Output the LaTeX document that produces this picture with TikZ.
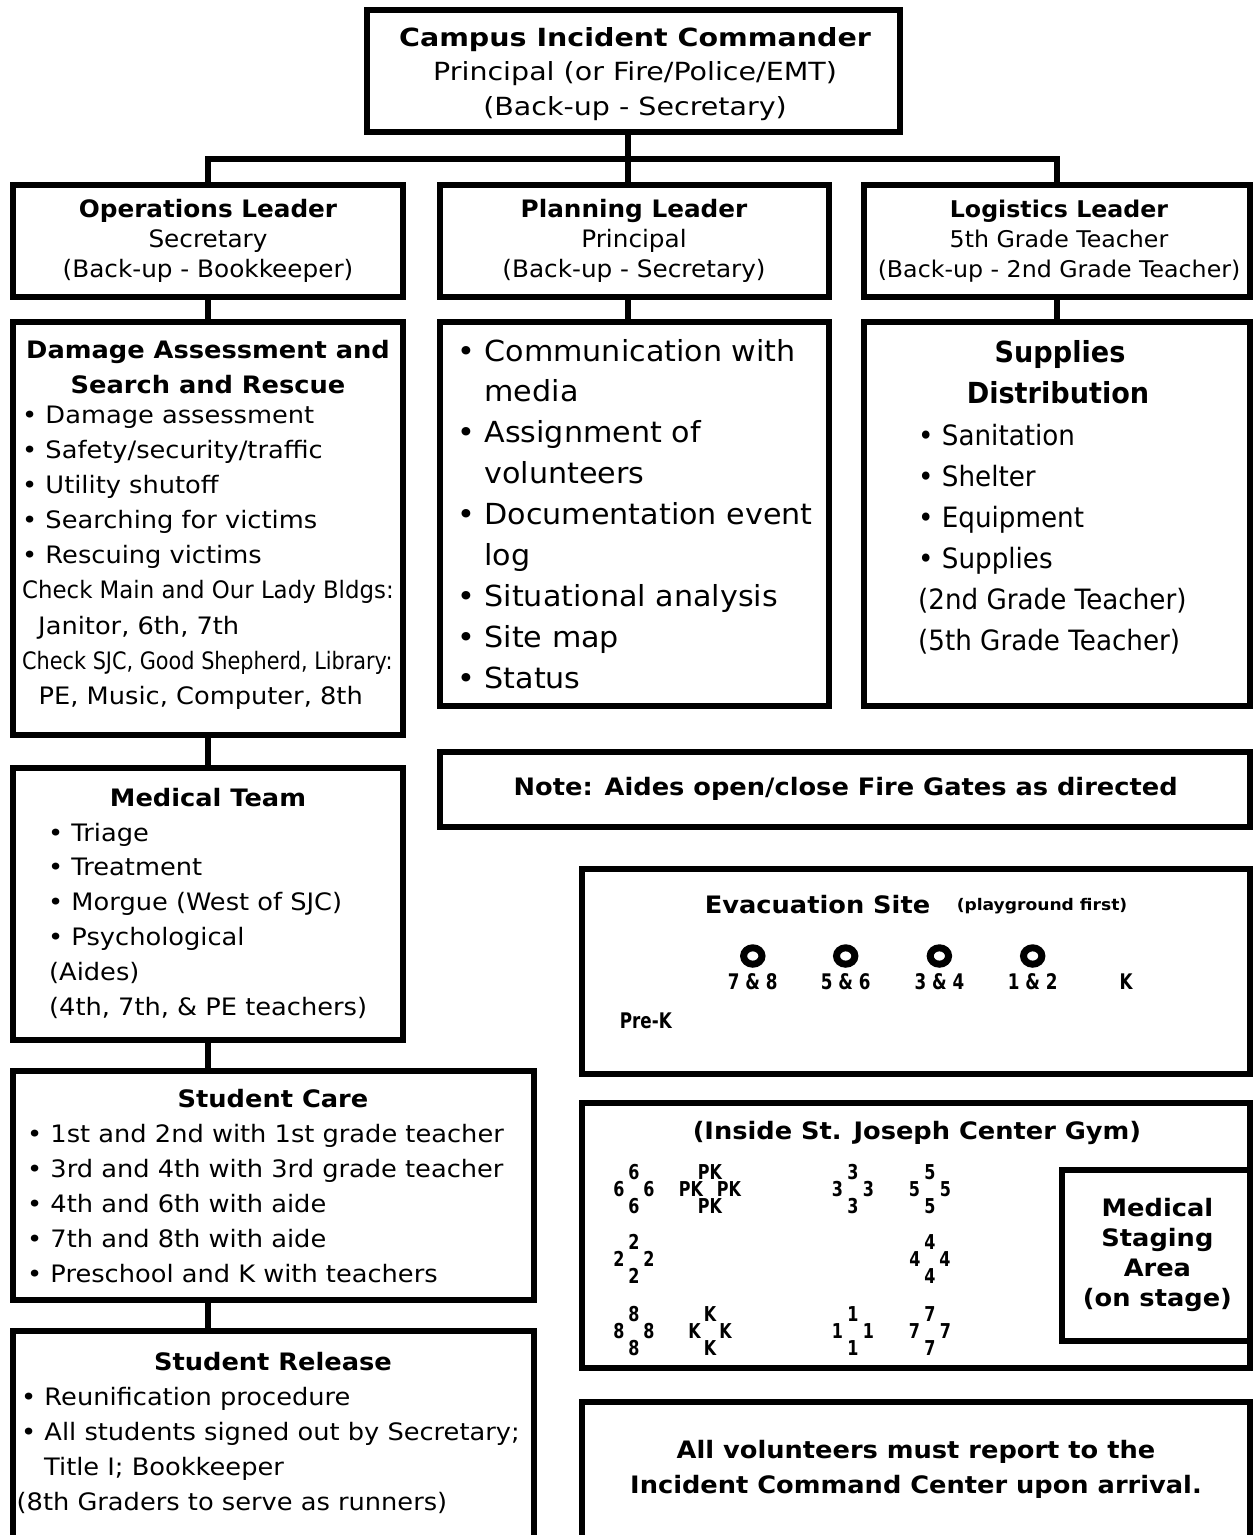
\documentclass[tikz,border=0pt]{standalone}
\usepackage{fontspec}
\usepackage{graphicx}
\setmainfont{DejaVu Sans}
\newfontfamily\bodyface[FakeStretch=1.07]{DejaVu Sans}
\newfontfamily\topface[FakeStretch=1.14]{DejaVu Sans}
\newfontfamily\leadface[FakeStretch=1.03]{DejaVu Sans}
\newfontfamily\planface[FakeStretch=1.04]{DejaVu Sans}
\newfontfamily\logface[FakeStretch=0.935]{DejaVu Sans}
\newfontfamily\tagface[FakeStretch=0.78]{DejaVu Sans}
\newcommand{\txtbody}{\bodyface\fontsize{24}{35}\selectfont}
\newcommand{\txthead}{\bodyface\bfseries\fontsize{24}{35}\selectfont}

\tikzset{
  box/.style={draw, line width=6pt, anchor=north west, inner sep=0pt, outer sep=0pt},
  link/.style={line width=6pt},
  txt/.style={anchor=base west, inner sep=0pt},
  ctrtxt/.style={anchor=base, inner sep=0pt},
  seat/.style={anchor=base, inner sep=0pt, font=\tagface\bfseries\fontsize{20.5}{22}\selectfont},
}

\begin{document}
\begin{tikzpicture}[x=1pt,y=-1pt]
  \useasboundingbox (0,0) rectangle (1254,1535);
  \clip (0,0) rectangle (1254,1535);
  \fill[white] (0,0) rectangle (1254,1535);

  % boxes
  \node[box, minimum width=533pt, minimum height=121.5pt] (cmd) at (367,10) {};
  \node[box, minimum width=390pt, minimum height=112pt] (opsLead) at (13,185) {};
  \node[box, minimum width=389pt, minimum height=112pt] (planLead) at (440,185) {};
  \node[box, minimum width=386pt, minimum height=112pt] (logLead) at (864,185) {};
  \node[box, minimum width=390pt, minimum height=413pt] (opsTask) at (13,322) {};
  \node[box, minimum width=389pt, minimum height=384pt] (planTask) at (440,322) {};
  \node[box, minimum width=386pt, minimum height=384pt] (logTask) at (864,322) {};
  \node[box, minimum width=390pt, minimum height=272.5pt] (medic) at (13,767.5) {};
  \node[box, minimum width=810pt, minimum height=75pt] (note) at (440,751.5) {};
  \node[box, minimum width=521pt, minimum height=229.5pt] (care) at (13,1070.5) {};
  \node[box, minimum width=521pt, minimum height=240pt] (release) at (13,1330.5) {};
  \node[box, minimum width=668pt, minimum height=205pt] (evac) at (582,868.5) {};
  \node[box, minimum width=668pt, minimum height=264.5pt] (gym) at (582,1103) {};
  \node[box, minimum width=188pt, minimum height=170.5pt] (stage) at (1062,1170) {};
  \node[box, minimum width=668pt, minimum height=170pt] (report) at (582,1401.7) {};

  % connectors
  \coordinate (bus) at (628,158.5);
  \draw[link] (cmd.south -| bus) -- (bus);
  \draw[link] (opsLead.north) |- (bus) -| (logLead.north);
  \draw[link] (bus) -- (bus |- planLead.north);
  \draw[link] (opsLead.south) -- (opsTask.north);
  \draw[link] (planLead.south -| bus) -- (planTask.north -| bus);
  \draw[link] (logLead.south) -- (logTask.north);
  \draw[link] (opsTask.south) -- (medic.north);
  \draw[link] (medic.south) -- (medic.south |- care.north);
  \draw[link] (medic.south |- care.south) -- (medic.south |- release.north);

  % commander
  \node[ctrtxt, font=\topface\bfseries\fontsize{25}{35}\selectfont] (cmd1) at (635,46.3) {Campus Incident Commander};
  \node[ctrtxt, font=\topface\fontsize{25}{35}\selectfont] (cmd2) at (635,80.5) {Principal (or Fire/Police/EMT)};
  \node[ctrtxt, font=\topface\fontsize{25}{35}\selectfont] (cmd3) at (635,115.5) {(Back-up - Secretary)};

  % leaders
  \node[ctrtxt, font=\leadface\bfseries\fontsize{24}{30}\selectfont] (ops1) at (208,217.5) {Operations Leader};
  \node[ctrtxt, font=\leadface\fontsize{24}{30}\selectfont] (ops2) at (208,247.5) {Secretary};
  \node[ctrtxt, font=\leadface\fontsize{24}{30}\selectfont] (ops3) at (208,277.5) {(Back-up - Bookkeeper)};
  \node[ctrtxt, font=\leadface\bfseries\fontsize{24}{30}\selectfont] (plan1) at (634,217.5) {Planning Leader};
  \node[ctrtxt, font=\leadface\fontsize{24}{30}\selectfont] (plan2) at (634,247.5) {Principal};
  \node[ctrtxt, font=\leadface\fontsize{24}{30}\selectfont] (plan3) at (634,277.5) {(Back-up - Secretary)};
  \node[ctrtxt, font=\leadface\bfseries\fontsize{23}{30}\selectfont] (log1) at (1059,217.5) {Logistics Leader};
  \node[ctrtxt, font=\leadface\fontsize{23}{30}\selectfont] (log2) at (1059,247.5) {5th Grade Teacher};
  \node[ctrtxt, font=\leadface\fontsize{23}{30}\selectfont] (log3) at (1059,277.5) {(Back-up - 2nd Grade Teacher)};

  % damage assessment
  \node[ctrtxt, font=\txthead] (dsr1) at (208,358.3) {Damage Assessment and};
  \node[ctrtxt, font=\txthead] (dsr2) at (208,393.3) {Search and Rescue};
  \foreach \txt [count=\i] in {Damage assessment, Safety/security/traffic, Utility shutoff, Searching for victims, Rescuing victims}
    \node[txt, font=\txtbody] (dsr-b\i) at (22,{423.3+35*(\i-1)}) {• \txt};
  \node[txt, font=\txtbody] (dsr-c1) at (22,598.3) {\scalebox{0.89}[1]{Check Main and Our Lady Bldgs:}};
  \node[txt, font=\txtbody] (dsr-c2) at (38,634) {Janitor, 6th, 7th};
  \node[txt, font=\txtbody] (dsr-c3) at (22,669) {\scalebox{0.81}[1]{Check SJC, Good Shepherd, Library:}};
  \node[txt, font=\txtbody] (dsr-c4) at (38.5,704) {PE, Music, Computer, 8th};

  % planning tasks
  \foreach \txt [count=\i] in {• Communication with, \hphantom{•} media, • Assignment of, \hphantom{•} volunteers, • Documentation event, \hphantom{•} log, • Situational analysis, • Site map, • Status}
    \node[txt, font=\planface\fontsize{29}{41}\selectfont] (plan-t\i) at (457,{361+40.9*(\i-1)}) {\txt};

  % supplies
  \node[ctrtxt, font=\logface\bfseries\fontsize{29}{41}\selectfont] (sup1) at (1060,362.7) {Supplies};
  \node[ctrtxt, font=\logface\bfseries\fontsize{29}{41}\selectfont] (sup2) at (1058,403.3) {Distribution};
  \foreach \txt [count=\i] in {• Sanitation, • Shelter, • Equipment, • Supplies, (2nd Grade Teacher), (5th Grade Teacher)}
    \node[txt, font=\logface\fontsize{28}{41}\selectfont] (sup-t\i) at (918,{445+41*(\i-1)}) {\txt};

  % medical team
  \node[ctrtxt, font=\txthead] (medT) at (208,806.5) {Medical Team};
  \foreach \txt [count=\i] in {Triage, Treatment, Morgue (West of SJC), Psychological}
    \node[txt, font=\txtbody] (med\i) at (48,{841+34.8*(\i-1)}) {• \txt};
  \node[txt, font=\txtbody] (medA) at (49,980.7) {(Aides)};
  \node[txt, font=\txtbody] (medB) at (49,1015.5) {(4th, 7th, \& PE teachers)};

  % student care
  \node[ctrtxt, font=\txthead] (careT) at (273,1107) {Student Care};
  \foreach \txt [count=\i] in {1st and 2nd with 1st grade teacher, 3rd and 4th with 3rd grade teacher, 4th and 6th with aide, 7th and 8th with aide, Preschool and K with teachers}
    \node[txt, font=\txtbody] (care\i) at (27,{1142+35*(\i-1)}) {• \txt};

  % student release
  \node[ctrtxt, font=\txthead] (relT) at (273,1370) {Student Release};
  \node[txt, font=\txtbody] (rel1) at (21,1405) {• Reunification procedure};
  \node[txt, font=\txtbody] (rel2) at (21,1440) {• All students signed out by Secretary;};
  \node[txt, font=\txtbody] (rel3) at (44,1475) {Title I; Bookkeeper};
  \node[txt, font=\txtbody] (rel4) at (16.5,1510) {(8th Graders to serve as runners)};

  % note
  \node[ctrtxt, font=\txthead] (noteT) at (845.7,795) {Note: Aides open/close Fire Gates as directed};

  % evacuation site
  \node[ctrtxt, font=\txthead] (evacT) at (817.5,913.3) {Evacuation Site};
  \node[ctrtxt, font=\bodyface\bfseries\fontsize{16}{20}\selectfont] (evacS) at (1042,910) {(playground first)};
  \foreach \rx/\lb [count=\i] in {752.8/7 \& 8, 845.7/5 \& 6, 939.4/3 \& 4, 1032.7/1 \& 2} {
    \draw[line width=7pt] (\rx,956) ellipse [x radius=9.2, y radius=8.2];
    \node[seat, font=\tagface\bfseries\fontsize{21.5}{22}\selectfont] (grp\i) at (\rx,989.5) {\lb};
  }
  \node[seat, font=\tagface\bfseries\fontsize{21.5}{22}\selectfont] (grpK) at (1126,989.5) {K};
  \node[seat, font=\tagface\bfseries\fontsize{21.5}{22}\selectfont] (grpPK) at (645.8,1028) {Pre-K};

  % gym
  \node[ctrtxt, font=\txthead] (gymT) at (917,1139.3) {(Inside St. Joseph Center Gym)};
  \foreach \nm/\cx/\cy/\lb/\dx in {six/634/1196.7/6/15, pk/710/1196.7/PK/19, three/853/1196.7/3/15.5, five/930/1196.7/5/15.5, two/634/1266.7/2/15, four/930/1266.7/4/15, eight/634/1338.3/8/15, kin/710/1338.3/K/15.5, one/853/1338.3/1/15.5, seven/930/1338.3/7/15.5} {
    \node[seat] (\nm-n) at ({\cx},{\cy-17}) {\lb};
    \node[seat] (\nm-w) at ({\cx-\dx},{\cy}) {\lb};
    \node[seat] (\nm-e) at ({\cx+\dx},{\cy}) {\lb};
    \node[seat] (\nm-s) at ({\cx},{\cy+17}) {\lb};
  }
  \node[ctrtxt, font=\txthead] (stage1) at (1157.4,1216.7) {Medical};
  \node[ctrtxt, font=\txthead] (stage2) at (1157.4,1246.7) {Staging};
  \node[ctrtxt, font=\txthead] (stage3) at (1157.4,1276.7) {Area};
  \node[ctrtxt, font=\txthead] (stage4) at (1157.4,1306.7) {(on stage)};

  % volunteers
  \node[ctrtxt, font=\txthead] (rep1) at (916,1458.3) {All volunteers must report to the};
  \node[ctrtxt, font=\txthead] (rep2) at (916,1493.3) {Incident Command Center upon arrival.};
\end{tikzpicture}
\end{document}
